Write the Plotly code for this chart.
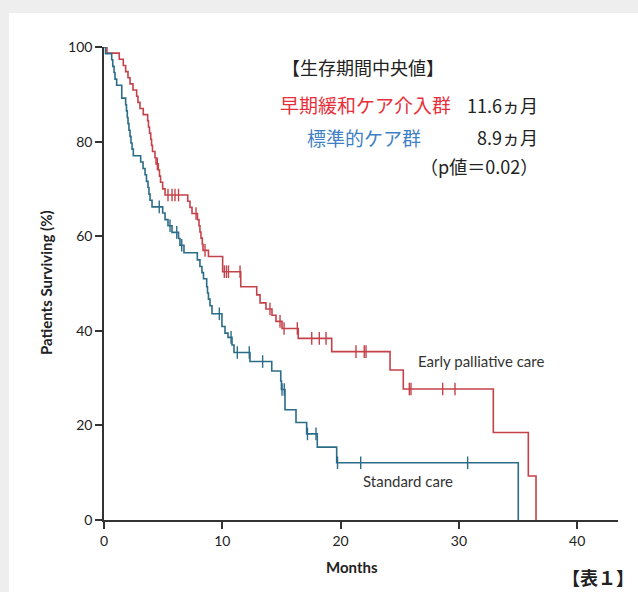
import plotly.graph_objects as go

# ---- Data (months, % surviving) ----
early_t = [0, 0.25, 1.29, 1.63, 1.83, 2.03, 2.20, 2.45, 2.76, 2.87, 3.04, 3.32, 3.69,
           3.76, 3.85, 3.95, 4.02, 4.10, 4.31, 4.40, 4.59, 4.69, 4.78, 4.96, 5.16,
           7.08, 7.27, 7.44, 7.90, 8.03, 8.11, 8.20, 8.31, 8.37, 8.83, 10.03, 11.56,
           12.91, 13.19, 13.69, 14.20, 14.54, 15.05, 16.42, 19.25, 24.18, 25.30,
           32.91, 35.87, 36.52]
early_s = [100, 98.7, 97.4, 96.1, 94.8, 93.5, 92.2, 90.9, 89.6, 88.3, 87.0, 85.7, 84.4,
           83.1, 81.8, 80.5, 79.2, 77.9, 76.6, 75.3, 74.0, 72.7, 71.4, 70.0, 68.7,
           67.4, 66.1, 64.8, 63.5, 62.2, 60.9, 59.6, 58.3, 57.0, 55.7, 52.5, 49.3,
           47.6, 45.9, 44.6, 43.3, 42.0, 40.5, 38.4, 35.6, 31.7, 27.7,
           18.5, 9.3, 0]
early_cens_t = [4.51, 5.41, 5.75, 6.00, 6.30, 7.78, 8.54, 10.17, 10.35, 10.52, 11.50,
                14.03, 14.88, 15.22, 16.34, 17.56, 18.20, 18.77, 21.30, 22.00, 22.15,
                25.81, 25.95, 28.63, 29.67]
early_cens_s = [75.3, 68.7, 68.7, 68.7, 68.7, 64.8, 57.0, 52.5, 52.5, 52.5, 52.5,
                44.6, 42.0, 40.5, 40.5, 38.4, 38.4, 38.4, 35.6, 35.6, 35.6,
                27.7, 27.7, 27.7, 27.7]

std_t = [0, 0.13, 0.65, 0.74, 0.85, 0.93, 1.07, 1.50, 1.83, 1.90, 1.97, 2.03, 2.11,
         2.20, 2.28, 2.37, 2.48, 3.10, 3.30, 3.47, 3.59, 3.72, 3.80, 3.89, 4.06,
         4.96, 5.16, 5.41, 5.75, 6.30, 6.42, 6.76, 7.89, 8.11, 8.28, 8.41, 8.68,
         8.75, 8.83, 8.96, 9.13, 9.97, 10.23, 10.48, 10.82, 10.99, 12.34, 14.18,
         14.94, 15.00, 15.30, 16.23, 17.13, 18.03, 19.67, 35.02]
std_s = [100, 98.6, 97.3, 95.9, 94.6, 93.2, 91.9, 89.2, 87.8, 86.5, 85.1, 83.8, 82.4,
         81.1, 79.7, 78.4, 77.0, 75.7, 74.3, 73.0, 71.6, 70.3, 68.9, 67.6, 66.2,
         64.9, 63.5, 62.2, 60.8, 59.5, 58.1, 56.5, 55.0, 53.6, 52.3, 51.0, 49.3,
         48.0, 46.7, 45.3, 43.6, 40.9, 39.5, 38.6, 37.0, 35.4, 33.5, 31.5,
         29.4, 27.6, 23.3, 20.6, 18.2, 15.4, 12.1, 0]
std_cens_t = [4.67, 5.58, 6.15, 6.57, 9.75, 10.74, 11.27, 12.28, 13.41, 15.05, 15.24,
              17.20, 17.92, 19.74, 21.70, 30.74]
std_cens_s = [66.2, 62.2, 60.8, 58.1, 43.6, 38.6, 35.4, 35.4, 33.5, 27.6, 27.6,
              18.2, 18.2, 12.1, 12.1, 12.1]

x_ticks = [0, 10, 20, 30, 40]
y_ticks = [0, 20, 40, 60, 80, 100]

RED = "#c4424a"
BLUE = "#2b6c88"
AX = "#333333"

# plot area in pixels
L, R, T, B = 104, 618, 47, 520
W, H = 638, 592


def px(xp):
    return (xp - L) / (R - L)


def py(yp):
    return (B - yp) / (B - T)


fig = go.Figure()

fig.add_trace(go.Scatter(x=early_t, y=early_s, mode="lines", line=dict(color=RED, width=1.6, shape="hv"),
                         name="Early palliative care", showlegend=False, hoverinfo="skip"))
fig.add_trace(go.Scatter(x=std_t, y=std_s, mode="lines", line=dict(color=BLUE, width=1.6, shape="hv"),
                         name="Standard care", showlegend=False, hoverinfo="skip"))
fig.add_trace(go.Scatter(x=early_cens_t, y=early_cens_s, mode="markers",
                         marker=dict(symbol="line-ns", size=9, line=dict(color=RED, width=1.4)),
                         showlegend=False, hoverinfo="skip"))
fig.add_trace(go.Scatter(x=std_cens_t, y=std_cens_s, mode="markers",
                         marker=dict(symbol="line-ns", size=9, line=dict(color=BLUE, width=1.4)),
                         showlegend=False, hoverinfo="skip"))

tickfont = dict(family="Lato, 'Liberation Sans', sans-serif", size=14, color="#222222")
jp = "'Noto Sans CJK JP', sans-serif"

fig.update_layout(
    width=W, height=H, autosize=False,
    margin=dict(l=L, r=W - R, t=T, b=H - B),
    paper_bgcolor="#eeeeee",
    plot_bgcolor="rgba(0,0,0,0)",
    xaxis=dict(range=[0, 43.45], tickvals=x_ticks, ticks="outside", ticklen=7, tickwidth=1.5,
               tickcolor=AX, showline=True, linecolor=AX, linewidth=1.6, showgrid=False,
               zeroline=False, tickfont=tickfont, fixedrange=True),
    yaxis=dict(range=[0, 100], tickvals=y_ticks, ticks="outside", ticklen=7, tickwidth=1.5,
               tickcolor=AX, showline=True, linecolor=AX, linewidth=1.6, showgrid=False,
               zeroline=False, tickfont=tickfont, fixedrange=True),
    shapes=[dict(type="rect", xref="paper", yref="paper", layer="below",
                 x0=px(9), x1=px(W + 5), y0=py(H + 5), y1=py(13),
                 fillcolor="white", line=dict(width=0))],
)

ann = [
    dict(text="【生存期間中央値】", x=px(280), y=py(67), xanchor="left", font=dict(family=jp, size=18, color="#222")),
    dict(text="早期緩和ケア介入群", x=px(453), y=py(105), xanchor="right", font=dict(family=jp, size=19, color="#e8303c")),
    dict(text="11.6ヵ月", x=px(540), y=py(105), xanchor="right", font=dict(family=jp, size=18, color="#222")),
    dict(text="標準的ケア群", x=px(423), y=py(137), xanchor="right", font=dict(family=jp, size=19, color="#3f7fc6")),
    dict(text="8.9ヵ月", x=px(540), y=py(137), xanchor="right", font=dict(family=jp, size=18, color="#222")),
    dict(text="（p値＝0.02）", x=px(540), y=py(166), xanchor="right", font=dict(family=jp, size=18, color="#222")),
    dict(text="Early palliative care", x=px(416), y=py(361), xanchor="left",
         font=dict(family="Lato, sans-serif", size=15, color="#333")),
    dict(text="Standard care", x=px(361), y=py(481), xanchor="left",
         font=dict(family="Lato, sans-serif", size=15, color="#333")),
    dict(text="<b>Months</b>", x=px(352), y=py(567), xanchor="center",
         font=dict(family="Lato, sans-serif", size=15, color="#222")),
    dict(text="<b>Patients Surviving (%)</b>", x=px(46), y=py(283), xanchor="center", textangle=-90,
         font=dict(family="Lato, sans-serif", size=15, color="#222")),
    dict(text="<b>【表１】</b>", x=px(636), y=py(577), xanchor="right",
         font=dict(family=jp, size=18, color="#222")),
]
for a in ann:
    a.update(xref="paper", yref="paper", showarrow=False, yanchor="middle")
fig.update_layout(annotations=ann)

# remove the page's default body margin so the figure sits at the window's top-left corner
fig.write_html("out.html", config={"displayModeBar": False},
               post_script="document.body.style.margin='0';document.body.style.background='#eeeeee';")
